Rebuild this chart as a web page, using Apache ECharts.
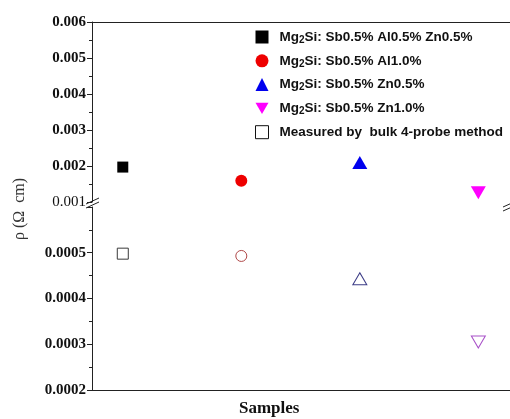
<!DOCTYPE html>
<html>
<head>
<meta charset="utf-8">
<script src="https://cdn.jsdelivr.net/npm/echarts@6/dist/echarts.min.js"></script>
<style>
html,body{margin:0;padding:0;background:#fff;}
#chart{width:510px;height:419px;}
</style>
</head>
<body>
<div id="chart"></div>
<script>
// Sample index positions along the x axis
var samples = [1, 2, 3, 4];
// Upper panel (thin-film values, Ω cm)
var sbAlZn = [0.00197];
var sbAl = [0.00159];
var sbZn05 = [0.00210];
var sbZn10 = [0.00126];
// Lower panel: measured by bulk 4-probe method
var bulkValues = [0.000498, 0.000493, 0.000443, 0.000305];
var upperTicks = [0.001, 0.002, 0.003, 0.004, 0.005, 0.006];
var lowerTicks = [0.0002, 0.0003, 0.0004, 0.0005];
var seriesNames = [
  'Mg2Si: Sb0.5% Al0.5% Zn0.5%',
  'Mg2Si: Sb0.5% Al1.0%',
  'Mg2Si: Sb0.5% Zn0.5%',
  'Mg2Si: Sb0.5% Zn1.0%',
  'Measured by  bulk 4-probe method'
];

var chart = echarts.init(document.getElementById('chart'), null, {renderer: 'canvas'});

var pxPerSample = 120.5;
var xMin = 1 - 31.3 / pxPerSample, xMax = xMin + 425 / pxPerSample;
var serif = 'Liberation Serif';
var sans = 'Liberation Sans';
var invTri = 'path://M0,0 L12,0 L6,10.4 Z';

var hollowStyles = [
  {symbol: 'rect', rot: 0, color: '#3a3a3a'},
  {symbol: 'circle', rot: 0, color: '#b04848'},
  {symbol: 'triangle', rot: 0, color: '#3c3c86'},
  {symbol: 'triangle', rot: 180, color: '#a850c8'}
];

function legendFmt(name) {
  if (name.indexOf('Mg2Si') === 0) {
    return '{g|}{n|Mg}{s|2}{n|' + name.slice(3) + '}';
  }
  return '{g|}{n|' + name + '}';
}

var yLabel = {
  fontFamily: serif, fontWeight: 'bold', fontSize: 15, color: '#111', margin: 6
};

var option = {
  animation: false,
  backgroundColor: '#fff',
  grid: [
    {left: 92, top: 22, width: 425, height: 180},
    {left: 92, top: 207, width: 425, height: 183}
  ],
  xAxis: [
    {gridIndex: 0, type: 'value', min: xMin, max: xMax, position: 'top',
      axisLine: {show: true, lineStyle: {color: '#222', width: 1}},
      axisTick: {show: false}, axisLabel: {show: false}, splitLine: {show: false}},
    {gridIndex: 1, type: 'value', min: xMin, max: xMax, position: 'bottom',
      axisLine: {show: true, lineStyle: {color: '#222', width: 1}},
      axisTick: {show: false}, axisLabel: {show: false}, splitLine: {show: false}}
  ],
  yAxis: [
    {gridIndex: 0, type: 'value', min: 0.001, max: 0.006, interval: 0.001,
      axisLine: {show: true, lineStyle: {color: '#222', width: 1}},
      axisTick: {show: true, length: 5, lineStyle: {color: '#222'}},
      minorTick: {show: true, splitNumber: 2, length: 3, lineStyle: {color: '#222'}},
      splitLine: {show: false},
      axisLabel: Object.assign({}, yLabel, {
        formatter: function (v) {
          var s = v.toFixed(3);
          return Math.abs(v - upperTicks[0]) < 1e-9 ? '{t|' + s + '}' : s;
        },
        rich: {t: {fontFamily: serif, fontWeight: 'normal', fontSize: 15, color: '#111'}}
      })},
    {gridIndex: 1, type: 'value', min: 0.0002, max: 0.0006, interval: 0.0001,
      axisLine: {show: true, lineStyle: {color: '#222', width: 1}},
      axisTick: {show: true, length: 5, lineStyle: {color: '#222'}},
      minorTick: {show: true, splitNumber: 2, length: 3, lineStyle: {color: '#222'}},
      splitLine: {show: false},
      axisLabel: Object.assign({}, yLabel, {
        showMaxLabel: false,
        formatter: function (v) { return v.toFixed(4); }
      })}
  ],
  legend: {
    orient: 'vertical', left: 250, top: 25,
    itemWidth: 13, itemHeight: 13, itemGap: 8.8,
    formatter: legendFmt,
    textStyle: {
      rich: {
        g: {width: 6, lineHeight: 16},
        n: {fontFamily: sans, fontWeight: 'bold', fontSize: 13.5, color: '#111', lineHeight: 16},
        s: {fontFamily: sans, fontWeight: 'bold', fontSize: 10, color: '#111', lineHeight: 16, verticalAlign: 'bottom'}
      }
    },
    data: [
      {name: seriesNames[0], icon: 'rect', itemStyle: {color: '#000', opacity: 1}},
      {name: seriesNames[1], icon: 'circle', itemStyle: {opacity: 1}},
      {name: seriesNames[2], icon: 'triangle', itemStyle: {opacity: 1}},
      {name: seriesNames[3], icon: invTri, itemStyle: {opacity: 1}},
      {name: seriesNames[4], icon: 'rect', itemStyle: {color: '#fff', borderColor: '#111', borderWidth: 1, opacity: 1}}
    ]
  },
  series: [
    {name: seriesNames[0], type: 'scatter', xAxisIndex: 0, yAxisIndex: 0, symbol: 'rect', symbolSize: 11,
      itemStyle: {color: '#000', opacity: 1}, data: sbAlZn.map(function (v) { return [samples[0], v]; })},
    {name: seriesNames[1], type: 'scatter', xAxisIndex: 0, yAxisIndex: 0, symbol: 'circle', symbolSize: 12,
      itemStyle: {color: '#ee0000', opacity: 1}, data: sbAl.map(function (v) { return [samples[1], v]; })},
    {name: seriesNames[2], type: 'scatter', xAxisIndex: 0, yAxisIndex: 0, symbol: 'triangle', symbolSize: [15, 13],
      itemStyle: {color: '#0000ee', opacity: 1}, data: sbZn05.map(function (v) { return [samples[2], v]; })},
    {name: seriesNames[3], type: 'scatter', xAxisIndex: 0, yAxisIndex: 0, symbol: 'triangle', symbolRotate: 180, symbolSize: [15, 13],
      itemStyle: {color: '#ff00ff', opacity: 1}, data: sbZn10.map(function (v) { return [samples[3], v]; })},
    {name: seriesNames[4], type: 'scatter', xAxisIndex: 1, yAxisIndex: 1, symbolSize: 11,
      itemStyle: {color: '#fff', borderColor: '#111', borderWidth: 1, opacity: 1},
      data: bulkValues.map(function (v, i) {
        var h = hollowStyles[i];
        return {
          value: [samples[i], v], symbol: h.symbol, symbolRotate: h.rot,
          symbolSize: h.symbol === 'triangle' ? [14, 12] : 11,
          itemStyle: {color: '#fff', borderColor: h.color, borderWidth: 1, opacity: 1}
        };
      })}
  ],
  graphic: [
    {type: 'text', left: 239, top: 400, style: {text: 'Samples', font: 'bold 17px "Liberation Serif"', fill: '#111'}},
    {type: 'text', x: 12, y: 240, rotation: Math.PI / 2, originX: 0, originY: 0,
      style: {text: 'ρ (Ω  cm)', font: '16px "Liberation Serif"', fill: '#333'}},
    {type: 'line', shape: {x1: 86, y1: 204, x2: 99, y2: 198}, style: {stroke: '#222', lineWidth: 1}},
    {type: 'line', shape: {x1: 86, y1: 208, x2: 99, y2: 202}, style: {stroke: '#222', lineWidth: 1}},
    {type: 'line', shape: {x1: 503, y1: 207, x2: 512, y2: 203}, style: {stroke: '#222', lineWidth: 1}},
    {type: 'line', shape: {x1: 503, y1: 211, x2: 512, y2: 207}, style: {stroke: '#222', lineWidth: 1}}
  ]
};
chart.setOption(option);
</script>
</body>
</html>
